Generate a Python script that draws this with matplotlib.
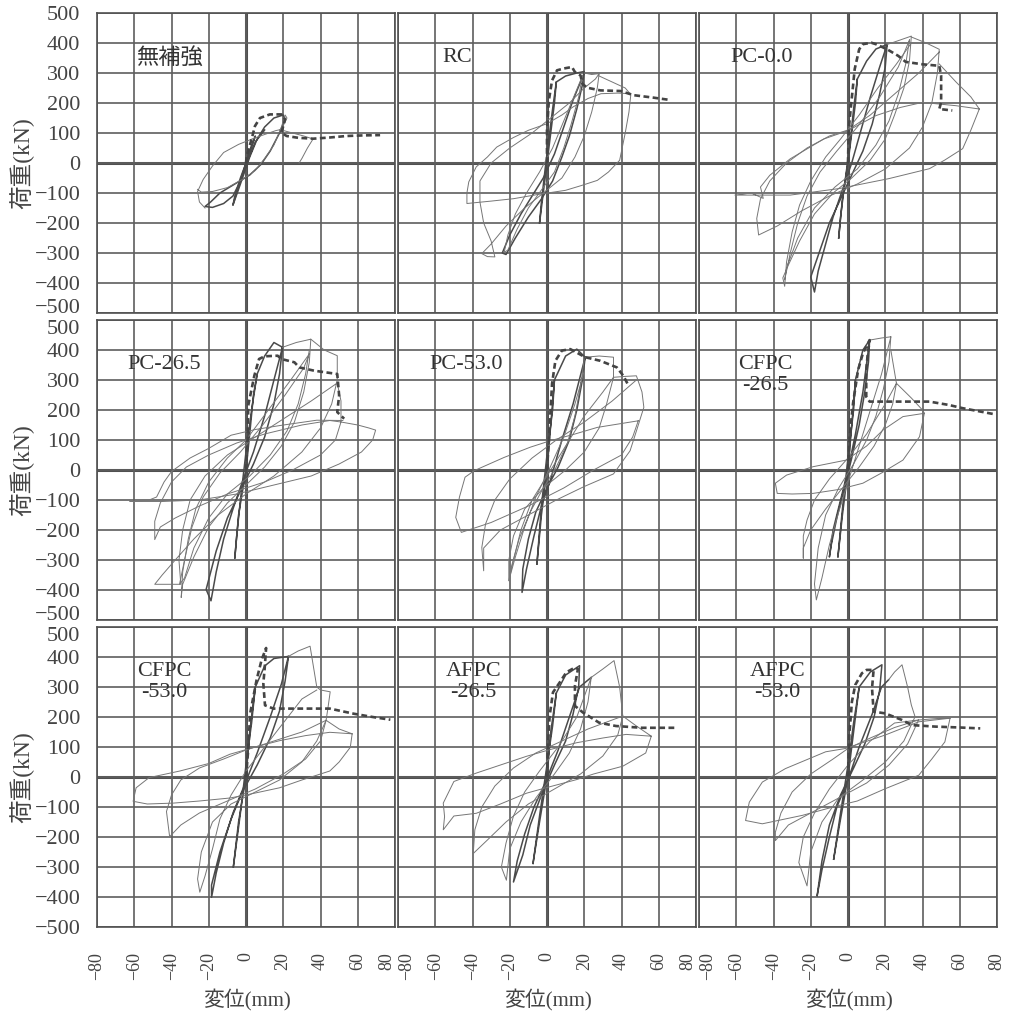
import matplotlib
matplotlib.use('Agg')
import matplotlib.pyplot as plt

# 荷重-変位 履歴曲線 (x: 変位 mm, y: 荷重 kN), 図から読み取り
names = ['無補強', 'RC', 'PC-0.0', 'PC-26.5', 'PC-53.0', 'CFPC\n-26.5',
         'CFPC\n-53.0', 'AFPC\n-26.5', 'AFPC\n-53.0']

mu_loops = [
    [(0, 0), (3, 60), (5, 90), (3, 50), (0, 0), (-3, -50), (-6, -110), (-7, -140), (-5, -100), (-2, -40), (0, 0)],
    [(-7, -140), (-3, -70), (2, 20), (6, 80), (10, 120), (15, 150), (20, 160), (21, 145), (18, 100), (13, 40),
     (8, -5), (2, -40), (-6, -70), (-14, -100), (-19, -130), (-22, -145), (-18, -148), (-12, -135), (-7, -110),
     (-3, -60), (1, 10), (5, 70), (10, 110)],
    [(-22, -150), (-25, -130), (-26, -95), (-23, -55), (-18, -10), (-12, 35), (-4, 62), (4, 82), (10, 95),
     (16, 108), (19, 112), (22, 150), (21, 160), (19, 120), (15, 60), (10, 15), (5, -25), (-2, -55), (-10, -82),
     (-18, -95), (-24, -97), (-26, -88)],
    [(19, 110), (25, 100), (31, 90), (36, 80), (33, 50), (30, 15), (28.5, 0)],
]
mu_env = [(0, 0), (0.4, 24), (3, 79), (4.8, 123), (7.5, 150), (12.8, 162), (19, 162), (21, 145), (19, 101),
          (21.8, 90), (28, 84), (36, 81), (45, 85), (54, 90), (63, 92), (72, 93)]

rc_loops = [
    [(-4, -200), (-2, -100), (0, 0), (2, 100), (4, 200), (5, 270), (3, 180), (1, 80), (-1, -20), (-3, -130), (-4, -200)],
    [(5, 270), (10, 290), (16, 300), (20, 305), (19, 260), (16, 180), (12, 90), (8, 20), (3, -60), (-3, -120),
     (-10, -180), (-17, -250), (-22, -305), (-24, -300), (-20, -240), (-14, -170), (-8, -110), (-2, -50), (4, 30),
     (9, 120), (14, 210), (18, 270), (20, 300)],
    [(19, 290), (17, 220), (13, 130), (9, 50), (4, -30), (-3, -90), (-10, -150), (-16, -220), (-21, -290),
     (-23, -298), (-21, -240), (-17, -170), (-11, -100), (-4, -30), (3, 50), (9, 140), (15, 230), (19, 290)],
    [(20, 300), (24, 295), (28, 298), (27, 250), (24, 170), (20, 90), (15, 20), (8, -50), (-2, -100), (-12, -150),
     (-22, -210), (-30, -270), (-35, -302), (-32, -312), (-28, -313), (-30, -260), (-34, -200), (-36, -130),
     (-36, -60), (-30, 0), (-20, 50), (-8, 100), (2, 150), (12, 200), (20, 250), (26, 280), (28, 298)],
    [(28, 290), (35, 270), (42, 250), (45, 228), (44, 170), (42, 100), (39, 9), (33, -30), (27, -58), (18, -76),
     (10, -91), (-5, -105), (-18, -119), (-30, -127), (-43, -135), (-43, -100), (-42, -63), (-38, -13), (-32, 20),
     (-27, 53), (-18, 85), (-10, 109), (0, 131), (8, 160), (14, 187), (22, 215), (29, 231), (38, 233), (45, 231)],
]
rc_env = [(0, 0), (0, 109), (1, 209), (2.7, 275), (5.4, 309), (9, 315), (13.4, 320), (15, 303), (18, 292),
          (19, 264), (21.5, 251), (28.7, 242), (39.4, 240), (46.6, 226), (57, 218), (65, 211)]

pc00_loops = [
    [(-5, -250), (-3, -120), (0, 0), (2, 100), (4, 200), (5, 280), (3, 180), (1, 60), (-2, -80), (-4, -180), (-5, -250)],
    [(5, 280), (10, 340), (15, 380), (21, 395), (20, 320), (17, 230), (13, 130), (8, 40), (2, -40), (-4, -120),
     (-10, -200), (-15, -290), (-20, -380), (-18, -430), (-16, -360), (-12, -270), (-8, -180), (-3, -90), (2, 0),
     (7, 110), (12, 220), (17, 320), (21, 395)],
    [(21, 395), (28, 410), (34, 423), (33, 340), (30, 250), (25, 160), (20, 80), (12, 10), (2, -50), (-8, -100),
     (-18, -170), (-26, -260), (-32, -340), (-35, -383), (-34, -411), (-33, -330), (-30, -230), (-26, -140),
     (-20, -60), (-12, 20), (-4, 80), (6, 160), (16, 250), (26, 330), (34, 400)],
    [(33, 410), (31, 330), (27, 230), (22, 140), (15, 60), (5, -20), (-7, -80), (-18, -150), (-27, -250),
     (-33, -350), (-34, -390), (-31, -300), (-27, -200), (-22, -110), (-15, -30), (-6, 40), (5, 120), (17, 220),
     (27, 320), (33, 410)],
    [(34, 420), (42, 400), (49, 379), (48, 300), (45, 200), (40, 120), (33, 50), (20, -20), (5, -70), (-10, -110),
     (-25, -160), (-38, -210), (-48, -240), (-49, -185), (-47, -120), (-42, -60), (-33, 0), (-22, 50), (-10, 90),
     (0, 110), (12, 160), (25, 230), (38, 300), (49, 370)],
    [(49, 330), (58, 270), (66, 220), (70.5, 180), (66, 110), (61.6, 48), (52, 10), (43.7, -19), (22, -52),
     (-4.5, -85), (-31, -107), (-45, -107), (-60.7, -107), (-52, -100), (-45.5, -118), (-47, -80), (-42, -41),
     (-31, 14), (-13, 80), (0, 108), (15, 158), (28, 185), (40, 202), (58, 191), (70.5, 180)],
]
pc00_env = [(0, 0), (0.4, 114), (1.8, 202), (3.6, 313), (6, 379), (8, 396), (12.5, 401), (15, 396), (21, 379),
            (27, 357), (31, 337), (40, 329), (49, 324), (50, 291), (50, 202), (49, 180), (56, 175)]

pc265_loops = [
    [(-6, -293), (-4, -150), (0, 0), (2, 120), (4, 250), (6, 320), (3, 200), (0, 60), (-3, -100), (-5, -220), (-6, -293)],
    [(6, 320), (10, 380), (15, 425), (19.6, 409), (18, 320), (15, 220), (10, 110), (4, 20), (-3, -70), (-10, -160),
     (-16, -270), (-21.4, -398), (-18.8, -436), (-16, -340), (-12, -230), (-7, -130), (-2, -40), (4, 60), (10, 180),
     (15, 300), (19.6, 409)],
    [(19.6, 409), (27, 425), (34.8, 436), (34, 360), (31, 260), (26, 160), (19, 80), (10, 10), (0, -50), (-10, -110),
     (-20, -190), (-28, -290), (-34, -381), (-34.8, -425), (-34, -340), (-31, -230), (-27, -130), (-20, -40),
     (-10, 40), (0, 100), (12, 200), (24, 300), (34, 387)],
    [(34, 400), (32, 320), (28, 220), (22, 130), (13, 50), (2, -20), (-10, -80), (-20, -160), (-28, -260),
     (-33, -360), (-35.7, -381), (-33, -300), (-29, -190), (-23, -90), (-14, -10), (-3, 60), (9, 150), (21, 250),
     (31, 340), (34, 387)],
    [(34.8, 436), (42, 400), (49, 381), (49, 300), (46, 220), (40, 140), (30, 60), (15, -20), (0, -80), (-15, -150),
     (-28, -230), (-38, -300), (-45, -350), (-49, -381), (-42, -381), (-35, -381), (-36, -300), (-34, -200),
     (-30, -100), (-22, -20), (-10, 50), (5, 110), (20, 170), (35, 230), (49, 290)],
    [(49, 290), (51, 230), (51, 160), (48, 100), (40, 50), (25, 0), (10, -40), (-10, -80), (-25, -120), (-38, -160),
     (-46, -190), (-49, -232), (-49, -171), (-46, -110), (-40, -40), (-32, 10), (-20, 50), (-5, 90), (10, 120),
     (30, 150), (45, 165), (51, 160)],
    [(51, 160), (60, 150), (66, 140), (69.6, 133), (68, 100), (62, 60), (50, 20), (35, -20), (15, -50), (-5, -80),
     (-25, -100), (-45, -105), (-62.5, -105), (-52, -100), (-48, -90), (-44, -40), (-40, -5), (-30, 40), (-20, 72),
     (-8, 116), (5, 135), (19, 149), (38, 166), (52, 165)],
]
pc265_env = [(0, 0), (0.9, 105), (1.2, 215), (4.5, 315), (7, 370), (10, 379), (17, 381), (19, 370), (26, 359),
             (28.6, 342), (36.6, 331), (49, 320), (50, 249), (49, 193), (52.7, 171)]

pc530_loops = [
    [(-5.4, -313), (-3, -150), (0, 0), (2, 150), (4, 300), (3, 200), (0, 50), (-3, -120), (-5.4, -313)],
    [(4, 300), (10, 380), (16, 403), (20.5, 376), (19, 300), (16, 200), (12, 100), (6, 10), (0, -60), (-6, -140),
     (-10, -230), (-13, -330), (-13.4, -408), (-11, -330), (-7, -220), (-3, -120), (2, -30), (8, 100), (14, 220),
     (20.5, 376)],
    [(20, 370), (18, 280), (15, 180), (11, 90), (5, 10), (-2, -60), (-9, -140), (-15, -230), (-19, -320),
     (-20.5, -369), (-17, -290), (-12, -190), (-6, -90), (1, 0), (9, 110), (15, 220), (20, 330)],
    [(20.5, 376), (28, 380), (35.7, 376), (35.7, 309), (32, 220), (28, 140), (20, 60), (10, 0), (-2, -60),
     (-12, -130), (-18, -220), (-20.5, -300), (-20.5, -369), (-18, -300), (-14, -200), (-8, -100), (0, -20),
     (10, 80), (20, 180), (30, 260), (35.7, 309)],
    [(35.7, 309), (42, 312), (48, 314), (51, 260), (52, 209), (48, 130), (44.6, 64), (35.7, -13), (20, -55),
     (5, -100), (-10, -150), (-25, -200), (-34, -260), (-34, -336), (-35, -258), (-33, -180), (-28, -100),
     (-20, -30), (-8, 40), (5, 100), (20, 160), (35, 230), (48, 300)],
    [(49, 164), (46, 110), (40, 50), (25, 0), (9, -60), (-10, -120), (-30, -175), (-46, -208), (-49, -158),
     (-47, -90), (-44, -24), (-39, -2), (-23, 42), (-9, 76), (2, 98), (15, 120), (27, 142), (40, 155), (49, 164)],
]
pc530_env = [(0, 0), (1.4, 142), (2.7, 287), (4.5, 364), (8, 398), (12.5, 403), (20.5, 376), (28.6, 364),
             (37.5, 342), (41, 314), (43.8, 281)]

cf265_loops = [
    [(-5.4, -289), (-3, -150), (0, 0), (2, 150), (4, 300), (3, 200), (0, 40), (-3, -130), (-5.4, -289)],
    [(4, 300), (8, 400), (11.6, 433), (11, 360), (9, 260), (6, 150), (2, 40), (-2, -60), (-6, -160), (-9, -250),
     (-10, -290), (-8, -200), (-4, -100), (0, 0), (4, 120), (8, 260), (11.6, 433)],
    [(11.6, 433), (18, 440), (23, 444), (22, 360), (19, 270), (15, 180), (10, 100), (3, 20), (-5, -60), (-12, -150),
     (-16, -260), (-18, -380), (-17, -433), (-14, -360), (-10, -250), (-5, -140), (0, -40), (6, 80), (12, 200),
     (18, 320), (23, 444)],
    [(23, 400), (26, 289), (24, 220), (20, 150), (14, 80), (6, 10), (-3, -60), (-12, -130), (-20, -200), (-24, -260),
     (-24, -294), (-24, -220), (-22, -167), (-18, -100), (-10, -30), (0, 40), (10, 120), (20, 220), (26, 289)],
    [(26, 289), (34, 240), (40, 200), (41, 189), (38.4, 111), (29.5, 33), (18, -10), (8, -44), (-5, -65),
     (-18.75, -78), (-30, -80), (-38, -78), (-39, -44), (-33, -17), (-18.75, 11), (-1, 33), (10, 80),
     (18.75, 133), (29.5, 178), (41, 189)],
]
cf265_env = [(0, 0), (0.9, 111), (2.7, 222), (5.4, 333), (8, 389), (11.6, 433), (10.5, 380), (9.8, 333),
             (9.8, 244), (11.6, 228), (26, 228), (43.7, 228), (54, 217), (61.6, 206), (77.7, 187)]

cf530_loops = [
    [(-6.8, -300), (-4, -150), (0, 0), (2, 150), (5, 300), (3, 180), (0, 40), (-3, -120), (-6.8, -300)],
    [(5, 300), (10, 370), (15, 395), (22.8, 402), (21, 320), (18, 220), (13, 130), (6, 40), (-2, -50), (-8, -140),
     (-14, -250), (-18.5, -360), (-18.5, -401), (-16, -320), (-12, -220), (-7, -120), (-1, -30), (6, 80),
     (13, 200), (19, 310), (22.8, 402)],
    [(22.8, 402), (28, 420), (34.4, 436), (38, 300), (40, 290), (45.2, 284), (44, 230), (43, 189), (38, 120),
     (30, 50), (18, -10), (5, -50), (-8, -90), (-18, -150), (-24, -250), (-26, -340), (-24.8, -384), (-22, -330),
     (-18, -240), (-14, -140), (-8, -60), (0, 20), (10, 100), (20, 180), (30, 260), (38, 290)],
    [(43, 189), (40, 120), (32, 60), (20, 10), (5, -40), (-10, -80), (-25, -120), (-35, -160), (-41, -199),
     (-42.7, -115), (-40, -60), (-35, -10), (-25, 30), (-12, 60), (0, 90), (15, 120), (30, 150), (43, 189)],
    [(43, 189), (50, 160), (57, 144), (56, 99), (50, 50), (45, 20), (30, -10), (18, -36), (0, -60), (-8.6, -70),
     (-25, -80), (-39, -87), (-53, -90), (-60.6, -81), (-59, -36), (-52, -2), (-35.5, 20), (-20, 45), (-8.6, 76),
     (5, 100), (18, 121), (32, 138), (45, 149), (57, 144)],
]
cf530_env = [(0, 0), (1.3, 99), (2.2, 211), (5.7, 324), (8.4, 391), (10.8, 430), (10, 360), (9.3, 312),
             (10.2, 239), (14.7, 228), (30, 228), (45, 228), (57.8, 211), (68, 200), (77.5, 191)]

af265_loops = [
    [(-7.5, -288), (-4, -150), (0, 0), (2, 150), (5, 280), (3, 170), (0, 40), (-4, -130), (-7.5, -288)],
    [(5, 280), (10, 340), (17.5, 371), (17, 300), (14, 210), (10, 120), (4, 40), (-3, -60), (-9, -160), (-13, -260),
     (-18, -350), (-16, -280), (-12, -190), (-7, -100), (-1, -20), (6, 90), (12, 200), (17.5, 300), (23.75, 332)],
    [(23.75, 332), (22, 250), (18, 160), (12, 80), (4, 10), (-6, -70), (-14, -150), (-20, -240), (-21.8, -344),
     (-24.5, -300), (-22, -220), (-18, -130), (-12, -50), (-4, 20), (6, 100), (16, 200), (23.75, 332)],
    [(23.75, 332), (30, 360), (36, 388), (39, 300), (40.7, 203), (38, 140), (30, 70), (18, 10), (4, -40),
     (-10, -90), (-22, -150), (-32, -210), (-39.6, -255), (-38.75, -176), (-35, -100), (-28, -30), (-18, 30),
     (-6, 80), (8, 120), (22, 160), (35, 190), (40.7, 203)],
    [(40.7, 203), (48, 170), (56, 136), (53, 80), (40.7, 36), (25, 10), (15.7, -9), (0, -35), (-11, -54),
     (-25, -90), (-38, -121), (-50, -130), (-55.7, -176), (-55, -132), (-55.7, -87), (-50, -15), (-38, 13),
     (-25, 40), (-11, 69), (2, 92), (15.7, 114), (30, 130), (42.5, 142), (56, 136)],
]
af265_env = [(0, 0), (0.5, 103), (1.4, 203), (3.2, 282), (6.8, 315), (10.4, 349), (15, 365), (16.6, 360),
             (15, 304), (15, 237), (19.3, 215), (28, 181), (37, 170), (51, 164), (69, 164)]

af530_loops = [
    [(-7.7, -274), (-4, -140), (0, 0), (3, 150), (6, 300), (3, 180), (0, 40), (-4, -120), (-7.7, -274)],
    [(6, 300), (12, 350), (18.2, 374), (17, 290), (14, 200), (9, 110), (3, 30), (-4, -60), (-10, -160), (-14, -280),
     (-16.6, -397), (-14, -310), (-10, -200), (-6, -100), (0, -10), (6, 100), (13, 210), (18, 300), (21.8, 324)],
    [(21.8, 324), (25, 350), (29, 374), (32, 300), (34, 240), (36, 201), (30, 120), (20, 50), (8, -10), (-5, -70),
     (-14, -150), (-20, -250), (-22, -363), (-26.4, -285), (-24, -200), (-18, -120), (-10, -40), (0, 40),
     (12, 120), (25, 180), (37.9, 190)],
    [(37.9, 190), (32, 110), (22, 40), (10, -20), (-5, -70), (-20, -120), (-32, -160), (-39, -212), (-39, -184),
     (-36, -120), (-30, -50), (-20, 10), (-8, 60), (0, 95), (12, 130), (25, 165), (37.9, 190)],
    [(37.9, 190), (48, 195), (54.8, 196), (52, 117), (45, 60), (38, 6), (20, -39), (5, -80), (-5, -95),
     (-24.6, -128), (-46, -156), (-55, -145), (-53, -84), (-46, -17), (-33.6, 28), (-12, 84), (-1.4, 95),
     (20, 140), (38, 184), (54.8, 196)],
]
af530_env = [(0, 0), (0.7, 140), (2.1, 251), (3.9, 307), (7.5, 346), (10, 357), (13.75, 357), (12.9, 296),
             (13.75, 218), (20, 212), (29, 190), (34.3, 173), (46.8, 168), (60, 165), (71, 162)]

all_loops = [mu_loops, rc_loops, pc00_loops, pc265_loops, pc530_loops,
             cf265_loops, cf530_loops, af265_loops, af530_loops]
all_env = [mu_env, rc_env, pc00_env, pc265_env, pc530_env,
           cf265_env, cf530_env, af265_env, af530_env]
# ラベル位置 (x, ha)
label_pos = [(-59, 'left'), (-56, 'left'), (-63, 'left'), (-63.5, 'left'), (-63, 'left'),
             (-44.5, 'center'), (-44, 'center'), (-39.5, 'center'), (-38, 'center')]

x_ticks = list(range(-80, 81, 20))
y_ticks = list(range(-500, 501, 100))

serif = ['Liberation Serif', 'Noto Sans CJK JP']
W, H = 1019, 1013
fig = plt.figure(figsize=(W / 100, H / 100), dpi=100)
grid_c = '#5e5e5e'

for k in range(9):
    r, c = divmod(k, 3)
    left = 97 + c * 301
    top = 13 + r * 307
    ax = fig.add_axes([left / W, 1 - (top + 300) / H, 298 / W, 300 / H])
    ax.set_xlim(-80, 80)
    ax.set_ylim(-500, 500)
    ax.set_xticks(x_ticks)
    ax.set_yticks(y_ticks)
    ax.grid(True, color=grid_c, lw=1.2)
    ax.axhline(0, color='#505050', lw=2.2, zorder=1)
    ax.axvline(0, color='#505050', lw=2.2, zorder=1)
    for s in ax.spines.values():
        s.set_color('#505050')
        s.set_linewidth(1.2)
    ax.tick_params(length=0)

    for i, lp in enumerate(all_loops[k]):
        xs = [p[0] for p in lp]
        ys = [p[1] for p in lp]
        if i < 2:
            ax.plot(xs, ys, color='#4a4a4a', lw=1.1, zorder=3)
        else:
            ax.plot(xs, ys, color='#767676', lw=0.7, zorder=3)
    ex = [p[0] for p in all_env[k]]
    ey = [p[1] for p in all_env[k]]
    ax.plot(ex, ey, color='#444444', lw=1.9, ls=(0, (2.2, 1.3)), zorder=4)

    lx, ha = label_pos[k]
    ax.text(lx, 385, names[k], ha=ha, va='top', fontsize=16, family=serif,
            color='#333333', linespacing=1.15, zorder=5)

    if c == 0:
        ax.set_yticklabels([str(v).replace('-', '\u2212') for v in y_ticks],
                           family='Liberation Serif', fontsize=16, color='#444444')
        ax.tick_params(axis='y', pad=12)
        labs = ax.get_yticklabels()
        if r < 2:
            labs[0].set_verticalalignment('baseline')
        if r > 0:
            labs[-1].set_verticalalignment('top')
        fig.text(22 / W, 1 - (top + 150) / H, '荷重(kN)', rotation=90, ha='center', va='center',
                 fontsize=17, family=serif, color='#444444')
    else:
        ax.set_yticklabels([])

    if r == 2:
        ax.set_xticklabels([str(v).replace('-', '\u2212') for v in x_ticks], rotation=90,
                           family='Liberation Serif', fontsize=13, color='#444444')
        ax.tick_params(axis='x', pad=18)
        labs = ax.get_xticklabels()
        if c < 2:
            labs[-1].set_horizontalalignment('right')
        if c > 0:
            labs[0].set_horizontalalignment('left')
        fig.text((left + 150) / W, 1 - 1000 / H, '変位(mm)', ha='center', va='center',
                 fontsize=15, family=serif, color='#444444')
    else:
        ax.set_xticklabels([])

fig.savefig('out.png', dpi=100, facecolor='white')
